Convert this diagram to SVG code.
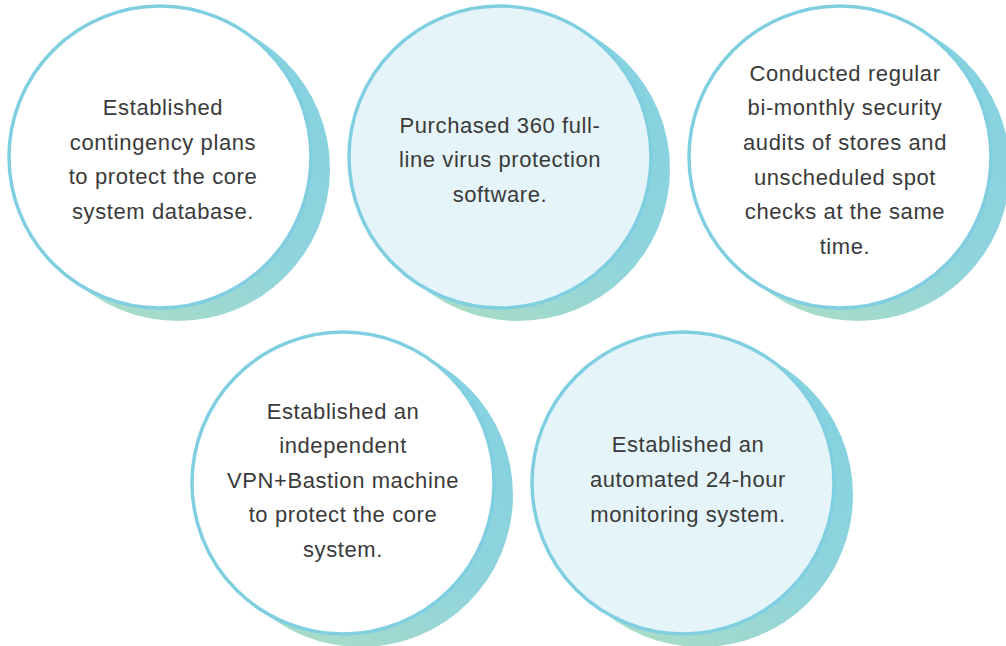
<svg xmlns="http://www.w3.org/2000/svg" width="1006" height="646" viewBox="0 0 1006 646">
  <defs>
    <linearGradient id="shade" x1="0.85" y1="0.15" x2="0.3" y2="1">
      <stop offset="0" stop-color="#86d2e0"/>
      <stop offset="0.55" stop-color="#90d4dc"/>
      <stop offset="1" stop-color="#a9dcc6"/>
    </linearGradient>
  </defs>
  <style>
    .shade { fill: url(#shade); }
    .ring { stroke: #80cfe1; stroke-width: 3.5; }
    .plain { fill: #ffffff; }
    .tint { fill: #e4f4f8; }
    .label { font-family: "Liberation Sans", Arial, sans-serif; font-size: 22px; letter-spacing: 0.6px; fill: #3a3a3a; text-anchor: middle; }
  </style>
  <rect width="1006" height="646" fill="#ffffff"/>

  <g id="connectors"/>

  <g id="node-contingency">
    <circle class="shade" cx="178" cy="169" r="152"/>
    <circle class="ring plain" cx="160" cy="157" r="151"/>
    <text class="label" x="163" y="115">Established</text>
    <text class="label" x="163" y="150">contingency plans</text>
    <text class="label" x="163" y="184">to protect the core</text>
    <text class="label" x="163" y="219">system database.</text>
  </g>

  <g id="node-antivirus">
    <circle class="shade" cx="518" cy="169" r="152"/>
    <circle class="ring tint" cx="500" cy="157" r="151"/>
    <text class="label" x="500" y="133">Purchased 360 full-</text>
    <text class="label" x="500" y="167">line virus protection</text>
    <text class="label" x="500" y="202">software.</text>
  </g>

  <g id="node-audits">
    <circle class="shade" cx="858" cy="169" r="152"/>
    <circle class="ring plain" cx="840" cy="157" r="151"/>
    <text class="label" x="845" y="81">Conducted regular</text>
    <text class="label" x="845" y="115">bi-monthly security</text>
    <text class="label" x="845" y="150">audits of stores and</text>
    <text class="label" x="845" y="185">unscheduled spot</text>
    <text class="label" x="845" y="219">checks at the same</text>
    <text class="label" x="845" y="254">time.</text>
  </g>

  <g id="node-bastion">
    <circle class="shade" cx="361" cy="495" r="152"/>
    <circle class="ring plain" cx="343" cy="483" r="151"/>
    <text class="label" x="343" y="419">Established an</text>
    <text class="label" x="343" y="453">independent</text>
    <text class="label" x="343" y="488">VPN+Bastion machine</text>
    <text class="label" x="343" y="522">to protect the core</text>
    <text class="label" x="343" y="557">system.</text>
  </g>

  <g id="node-monitoring">
    <circle class="shade" cx="701" cy="495" r="152"/>
    <circle class="ring tint" cx="683" cy="483" r="151"/>
    <text class="label" x="688" y="452">Established an</text>
    <text class="label" x="688" y="487">automated 24-hour</text>
    <text class="label" x="688" y="522">monitoring system.</text>
  </g>
</svg>
